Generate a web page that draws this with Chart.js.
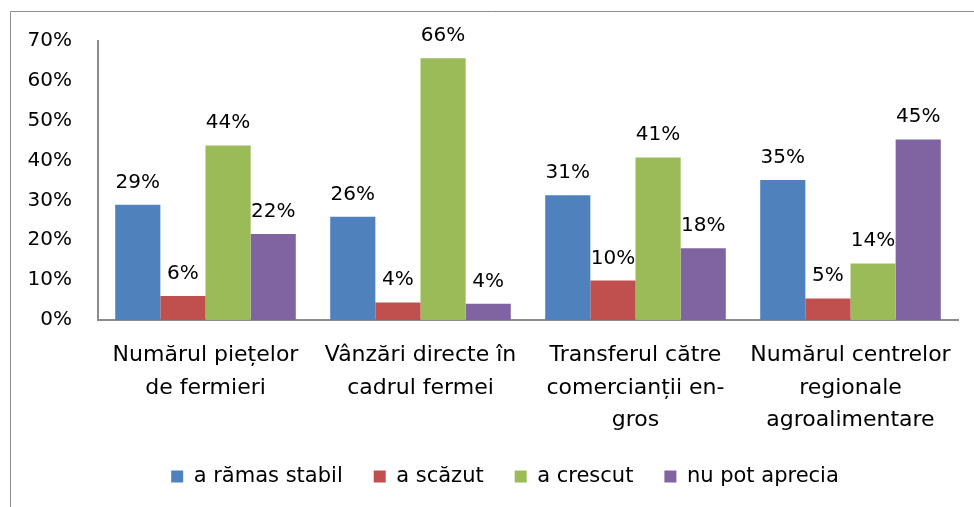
<!DOCTYPE html>
<html>
<head>
<meta charset="utf-8">
<script src="https://cdn.jsdelivr.net/npm/chart.js@4"></script>
<style>
    body { margin: 0; background: #fff; }
    .chart-box { width: 974px; height: 507px; }
</style>
</head>
<body>
<div class="chart-box"><canvas class="survey-chart"></canvas></div>
<script>
const categories = [
    ['Numărul piețelor', 'de fermieri'],
    ['Vânzări directe în', 'cadrul fermei'],
    ['Transferul către', 'comercianții en-', 'gros'],
    ['Numărul centrelor', 'regionale', 'agroalimentare']
]
const stabil = [28.9, 25.9, 31.3, 35.1]
const scazut = [6.0, 4.4, 9.9, 5.4]
const crescut = [43.8, 65.7, 40.8, 14.2]
const nuPot = [21.6, 4.1, 18.0, 45.3]
const seriesNames = ['a rămas stabil', 'a scăzut', 'a crescut', 'nu pot aprecia']
const yTicks = [0, 10, 20, 30, 40, 50, 60, 70]

const fontFamily = '"DejaVu Sans", sans-serif'
const fontSize = 20

// chenarul gri din jurul graficului
const framePlugin = {
    id: 'frame',
    beforeDraw(chart) {
        const ctx = chart.ctx
        ctx.save()
        ctx.strokeStyle = '#8c8c8c'
        ctx.lineWidth = 1
        ctx.beginPath()
        ctx.moveTo(10.5, chart.height)
        ctx.lineTo(10.5, 11.5)
        ctx.lineTo(chart.width, 11.5)
        ctx.stroke()
        ctx.restore()
    }
}

// legenda e centrata sub zona cu bare, nu pe tot canvasul
const legendShift = {
    id: 'legendShift',
    afterLayout(chart) {
        chart.legend.left += 52
    }
}

// etichetele cu procente deasupra barelor
const valueLabels = {
    id: 'valueLabels',
    afterDatasetsDraw(chart) {
        const ctx = chart.ctx
        ctx.save()
        ctx.font = fontSize + 'px ' + fontFamily
        ctx.fillStyle = '#000'
        ctx.textAlign = 'center'
        ctx.textBaseline = 'alphabetic'
        chart.data.datasets.forEach((ds, i) => {
            chart.getDatasetMeta(i).data.forEach((bar, j) => {
                ctx.fillText(Math.round(ds.data[j]) + '%', bar.x, bar.y - 17)
            })
        })
        ctx.restore()
    }
}

const ctx = document.querySelector('.survey-chart').getContext('2d')

new Chart(ctx, {
    type: 'bar',
    data: {
        labels: categories,
        datasets: [
            { label: seriesNames[0], data: stabil, backgroundColor: '#4f81bd' },
            { label: seriesNames[1], data: scazut, backgroundColor: '#c0504d' },
            { label: seriesNames[2], data: crescut, backgroundColor: '#9bbb59' },
            { label: seriesNames[3], data: nuPot, backgroundColor: '#8064a2' }
        ]
    },
    options: {
        responsive: true,
        maintainAspectRatio: false,
        animation: false,
        layout: { padding: { top: 41, right: 16, left: 0, bottom: 10 } },
        datasets: { bar: { categoryPercentage: 0.84, barPercentage: 1 } },
        scales: {
            x: {
                grid: { display: false, drawTicks: false },
                border: { display: true, color: '#8c8c8c', width: 2 },
                ticks: {
                    color: '#000',
                    padding: 19,
                    maxRotation: 0,
                    autoSkip: false,
                    font: { family: fontFamily, size: 22, lineHeight: 1.48 }
                },
                afterFit(scale) { scale.height = 115 }
            },
            y: {
                min: 0,
                max: 70,
                grid: { display: false, drawTicks: false },
                border: { display: true, color: '#8c8c8c', width: 2 },
                afterBuildTicks(scale) { scale.ticks = yTicks.map(v => ({ value: v })) },
                ticks: {
                    color: '#000',
                    padding: 26,
                    font: { family: fontFamily, size: fontSize },
                    callback: value => value + '%'
                },
                afterFit(scale) { scale.width = 98 }
            }
        },
        plugins: {
            legend: {
                position: 'bottom',
                labels: {
                    color: '#000',
                    boxWidth: 12,
                    boxHeight: 12,
                    padding: 31,
                    font: { family: fontFamily, size: 21 }
                }
            },
            tooltip: { enabled: false }
        }
    },
    plugins: [framePlugin, legendShift, valueLabels]
})
</script>
</body>
</html>
